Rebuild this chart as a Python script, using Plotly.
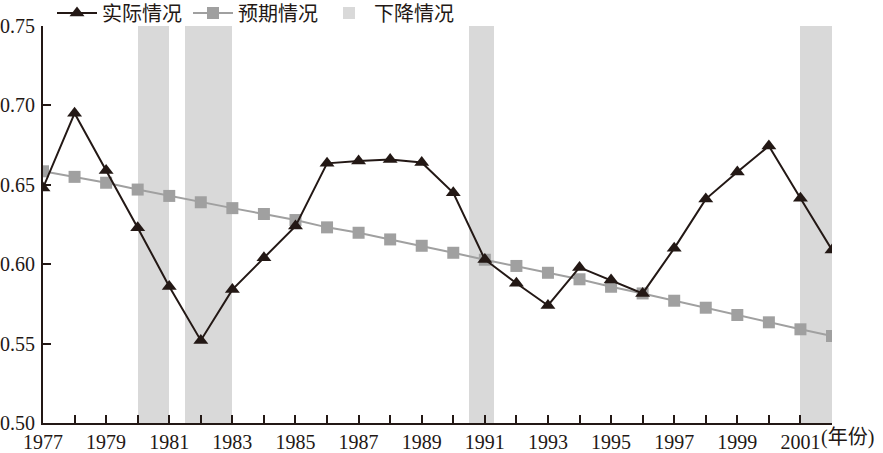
import plotly.graph_objects as go

years = list(range(1977, 2003))
actual = [0.648, 0.695, 0.659, 0.623, 0.586, 0.552, 0.584, 0.604, 0.624, 0.6635,
          0.665, 0.666, 0.664, 0.645, 0.603, 0.588, 0.574, 0.598, 0.590, 0.5816,
          0.610, 0.641, 0.658, 0.6745, 0.6415, 0.609]
expected = [0.6585, 0.655, 0.6513, 0.647, 0.643, 0.639, 0.6353, 0.6316, 0.6278, 0.6232,
            0.6198, 0.6156, 0.6116, 0.6072, 0.6028, 0.5989, 0.5946, 0.5905, 0.5858, 0.5816,
            0.577, 0.5726, 0.568, 0.5634, 0.559, 0.5548]
band_start = [1980.0, 1981.5, 1990.5, 2001.0]
band_end = [1981.0, 1983.0, 1991.3, 2002.0]
tick_years = list(range(1977, 2003))
tick_text = [str(y) if y % 2 == 1 else "" for y in tick_years]
y_ticks = [0.50, 0.55, 0.60, 0.65, 0.70, 0.75]
y_labels = ["0.50", "0.55", "0.60", "0.65", "0.70", "0.75"]

FONT = "Liberation Serif, Noto Sans CJK SC, serif"
INK = "#231815"

fig = go.Figure()
fig.add_trace(go.Bar(
    x=[(a + b) / 2 for a, b in zip(band_start, band_end)],
    y=[0.25] * len(band_start),
    base=[0.5] * len(band_start),
    width=[b - a for a, b in zip(band_start, band_end)],
    marker=dict(color="#d9d9d9", line=dict(width=0)),
    name="下降情况", hoverinfo="skip",
))
fig.add_trace(go.Scatter(
    x=years, y=expected, mode="lines+markers", name="预期情况",
    line=dict(color="#a0a0a0", width=2),
    marker=dict(symbol="square", size=12, color="#a0a0a0"),
))
fig.add_trace(go.Scatter(
    x=years, y=actual, mode="lines+markers", name="实际情况",
    line=dict(color=INK, width=2),
    marker=dict(symbol="triangle-up", size=13, color=INK),
))

fig.update_layout(
    width=883, height=453,
    margin=dict(l=43, r=51, t=26, b=30, autoexpand=False),
    plot_bgcolor="white", paper_bgcolor="white",
    font=dict(family=FONT, size=20, color=INK),
    showlegend=True,
    legend=dict(orientation="h", xref="container", yref="container",
                x=52 / 883, y=1 - 13 / 453, xanchor="left", yanchor="middle",
                traceorder="reversed", font=dict(size=20, color=INK),
                bgcolor="rgba(0,0,0,0)", itemwidth=40, entrywidth=81,
                tracegroupgap=0),
    bargap=0,
)
fig.update_xaxes(
    range=[1977, 2002], tickmode="array", tickvals=tick_years, ticktext=tick_text,
    ticks="inside", ticklen=8, tickcolor=INK, tickwidth=1.5, automargin=False,
    showline=True, linecolor=INK, linewidth=2, showgrid=False, zeroline=False,
    tickfont=dict(family=FONT, size=20, color=INK),
)
fig.update_yaxes(
    range=[0.5, 0.75], tickmode="array", tickvals=y_ticks, ticktext=y_labels,
    ticks="inside", ticklen=8, tickcolor=INK, tickwidth=1.5, automargin=False,
    showline=True, linecolor=INK, linewidth=2, showgrid=False, zeroline=False,
    tickfont=dict(family=FONT, size=20, color=INK), ticklabelstandoff=2,
)
fig.add_annotation(text="(年份)", xref="x", yref="paper", x=2001, xshift=19, y=0, yshift=-1,
                   xanchor="left", yanchor="top", showarrow=False,
                   font=dict(family=FONT, size=20, color=INK))
fig.write_html("out.html", config={"displayModeBar": False},
               post_script="document.body.style.margin='0';")
